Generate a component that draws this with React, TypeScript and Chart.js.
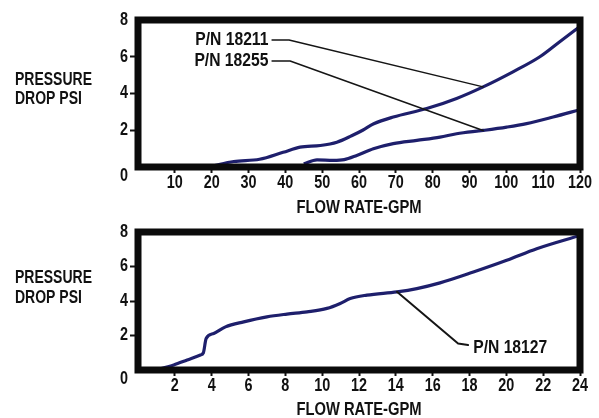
import React, { useEffect, useRef } from 'react';
import { Chart, registerables } from 'chart.js';

Chart.register(...registerables);

// ---------- data ----------
const topXTicks = [0, 10, 20, 30, 40, 50, 60, 70, 80, 90, 100, 110, 120];
const bottomXTicks = [0, 2, 4, 6, 8, 10, 12, 14, 16, 18, 20, 22, 24];
const yTicks = [0, 2, 4, 6, 8];

const flow18211 = [20, 26, 33, 39.4, 44, 49.5, 54, 58, 61, 64, 69.3, 78.4, 86.5, 93.7, 101.8, 109.1, 114.5, 120];
const psi18211 = [0.05, 0.3, 0.42, 0.8, 1.08, 1.17, 1.35, 1.7, 2.0, 2.35, 2.72, 3.18, 3.73, 4.36, 5.18, 6.0, 6.82, 7.65];

const flow18255 = [45, 48.6, 53, 56, 59.4, 63.9, 69.3, 75.7, 82, 86.5, 93.7, 100.1, 105.5, 112.7, 120];
const psi18255 = [0.17, 0.39, 0.36, 0.4, 0.63, 0.99, 1.27, 1.45, 1.63, 1.81, 1.99, 2.17, 2.36, 2.72, 3.12];

const flow18127 = [1.0, 1.94, 2.67, 3.39, 3.55, 3.7, 4.11, 4.75, 5.74, 7.0, 8.09, 9.18, 10.26, 10.98, 11.52, 12.43, 14.06, 15.14, 16.4, 18.21, 20.02, 21.65, 24];
const psi18127 = [0.0, 0.29, 0.58, 0.87, 1.0, 1.83, 2.12, 2.5, 2.79, 3.08, 3.24, 3.37, 3.57, 3.86, 4.14, 4.34, 4.53, 4.72, 5.05, 5.68, 6.36, 7.03, 7.8];

// leader lines (data units) and label anchors
const lead18211X = [36.4, 41, 93.7];
const lead18211Y = [6.91, 6.91, 4.36];
const lead18255X = [36.4, 41.3, 93.7];
const lead18255Y = [5.77, 5.77, 1.99];
const lead18127X = [14.06, 17.38, 17.92];
const lead18127Y = [4.53, 1.54, 1.45];

const topLabels = ['P/N 18211', 'P/N 18255'];
const topLabelX = [35.4, 35.4];
const topLabelY = [6.93, 5.79];
const bottomLabels = ['P/N 18127'];
const bottomLabelX = [18.2];
const bottomLabelY = [1.27];

const xTitle = 'FLOW RATE-GPM';
const yTitleLines = ['PRESSURE', 'DROP PSI'];

// ---------- styles ----------
const FONT = "'Liberation Sans', Arial, sans-serif";
const CURVE = '#1e1f6c';
const INK = '#111';

type Leader = { xs: number[]; ys: number[]; width: number };
type Note = { text: string; x: number; y: number; align: CanvasTextAlign };

function pts(xs: number[], ys: number[]) {
  return xs.map((x, i) => ({ x, y: ys[i] }));
}

function condensed(
  ctx: CanvasRenderingContext2D,
  text: string,
  x: number,
  y: number,
  align: CanvasTextAlign,
  size: number,
  squeeze = 0.8
) {
  ctx.save();
  ctx.translate(x, y);
  ctx.scale(squeeze, 1);
  ctx.font = `bold ${size}px ${FONT}`;
  ctx.textAlign = align;
  ctx.textBaseline = 'middle';
  ctx.fillStyle = INK;
  ctx.fillText(text, 0, 0);
  ctx.restore();
}

function buildChart(
  canvas: HTMLCanvasElement,
  opts: {
    xMax: number;
    xTicks: number[];
    padTop: number;
    xAxisHeight: number;
    titleOffset: number;
    series: { x: number[]; y: number[] }[];
    leaders: Leader[];
    notes: Note[];
    yTitleY: number[];
  }
) {
  const overlay = {
    id: 'overlay',
    afterDatasetsDraw(chart: any) {
      const { ctx, chartArea } = chart;
      const xs = chart.scales.x;
      const ys = chart.scales.y;
      ctx.save();
      // leaders
      ctx.strokeStyle = '#151515';
      ctx.lineJoin = 'round';
      ctx.lineCap = 'round';
      opts.leaders.forEach((l) => {
        ctx.lineWidth = l.width;
        ctx.beginPath();
        l.xs.forEach((v, i) => {
          const px = xs.getPixelForValue(v);
          const py = ys.getPixelForValue(l.ys[i]);
          if (i === 0) ctx.moveTo(px, py);
          else ctx.lineTo(px, py);
        });
        ctx.stroke();
      });
      // frame
      ctx.strokeStyle = '#0b0b0b';
      ctx.lineWidth = 7;
      ctx.lineJoin = 'miter';
      ctx.strokeRect(chartArea.left, chartArea.top, chartArea.right - chartArea.left, chartArea.bottom - chartArea.top);
      ctx.restore();

      // notes
      opts.notes.forEach((n) => {
        condensed(ctx, n.text, xs.getPixelForValue(n.x), ys.getPixelForValue(n.y), n.align, 18, 0.87);
      });
      // x tick labels (from the scale's own ticks)
      xs.ticks.forEach((t: any) => {
        if (t.value === 0) return;
        condensed(ctx, String(t.value), xs.getPixelForValue(t.value), chartArea.bottom + 16.5, 'center', 18);
      });
      // y tick labels; the zero sits at the corner
      ys.ticks.forEach((t: any) => {
        const py = t.value === 0 ? chartArea.bottom + 9 : ys.getPixelForValue(t.value);
        condensed(ctx, String(t.value), ys.right - 10, py, 'right', 18);
      });
      // axis titles
      condensed(ctx, xTitle, (chartArea.left + chartArea.right) / 2, chartArea.bottom + opts.titleOffset, 'center', 18, 0.82);
      yTitleLines.forEach((t, i) => condensed(ctx, t, 15, opts.yTitleY[i], 'left', 17.5));
    },
  };

  return new Chart(canvas, {
    type: 'line',
    data: {
      datasets: opts.series.map((s) => ({
        data: pts(s.x, s.y),
        borderColor: CURVE,
        borderWidth: 3.2,
        pointRadius: 0,
        cubicInterpolationMode: 'monotone' as const,
        fill: false,
      })),
    },
    options: {
      responsive: false,
      animation: false,
      events: [],
      layout: { padding: { left: 0, right: 19, top: opts.padTop, bottom: 0 } },
      plugins: { legend: { display: false }, tooltip: { enabled: false }, title: { display: false } },
      scales: {
        x: {
          type: 'linear',
          min: 0,
          max: opts.xMax,
          afterBuildTicks: (scale: any) => {
            scale.ticks = opts.xTicks.map((v) => ({ value: v }));
          },
          afterFit: (scale: any) => {
            scale.height = opts.xAxisHeight;
          },
          ticks: { display: false },
          grid: {
            drawOnChartArea: false,
            drawTicks: true,
            tickLength: 6,
            tickWidth: 2,
            tickColor: (c: any) => (c.tick && c.tick.value === 0 ? 'rgba(0,0,0,0)' : INK),
          },
          border: { display: false },
        },
        y: {
          type: 'linear',
          min: 0,
          max: 8,
          afterBuildTicks: (scale: any) => {
            scale.ticks = yTicks.map((v) => ({ value: v }));
          },
          afterFit: (scale: any) => {
            scale.width = 138;
          },
          ticks: { display: false },
          grid: {
            drawOnChartArea: false,
            drawTicks: true,
            tickLength: 8,
            tickWidth: 2,
            tickColor: (c: any) =>
              c.tick && (c.tick.value === 0 || c.tick.value === 8) ? 'rgba(0,0,0,0)' : INK,
          },
          border: { display: false },
        },
      },
    },
    plugins: [overlay],
  } as any);
}

export default function App() {
  const topRef = useRef<HTMLCanvasElement>(null);
  const botRef = useRef<HTMLCanvasElement>(null);

  useEffect(() => {
    const top = buildChart(topRef.current!, {
      xMax: 120,
      xTicks: topXTicks,
      padTop: 20,
      xAxisHeight: 53,
      titleOffset: 41.5,
      series: [
        { x: flow18211, y: psi18211 },
        { x: flow18255, y: psi18255 },
      ],
      leaders: [
        { xs: lead18211X, ys: lead18211Y, width: 1.5 },
        { xs: lead18255X, ys: lead18255Y, width: 1.5 },
      ],
      notes: topLabels.map((t, i) => ({ text: t, x: topLabelX[i], y: topLabelY[i], align: 'right' as CanvasTextAlign })),
      yTitleY: [80, 99.5],
    });
    const bot = buildChart(botRef.current!, {
      xMax: 24,
      xTicks: bottomXTicks,
      padTop: 12,
      xAxisHeight: 48,
      titleOffset: 40,
      series: [{ x: flow18127, y: psi18127 }],
      leaders: [{ xs: lead18127X, ys: lead18127Y, width: 2 }],
      notes: bottomLabels.map((t, i) => ({ text: t, x: bottomLabelX[i], y: bottomLabelY[i], align: 'left' as CanvasTextAlign })),
      yTitleY: [278.5 - 220, 298.5 - 220],
    });
    return () => {
      top.destroy();
      bot.destroy();
    };
  }, []);

  return (
    <div style={{ position: 'fixed', left: 0, top: 0, width: 599, height: 418, background: '#fff' }}>
      <canvas ref={topRef} width={599} height={220} style={{ display: 'block', width: 599, height: 220 }} />
      <canvas ref={botRef} width={599} height={198} style={{ display: 'block', width: 599, height: 198 }} />
    </div>
  );
}
